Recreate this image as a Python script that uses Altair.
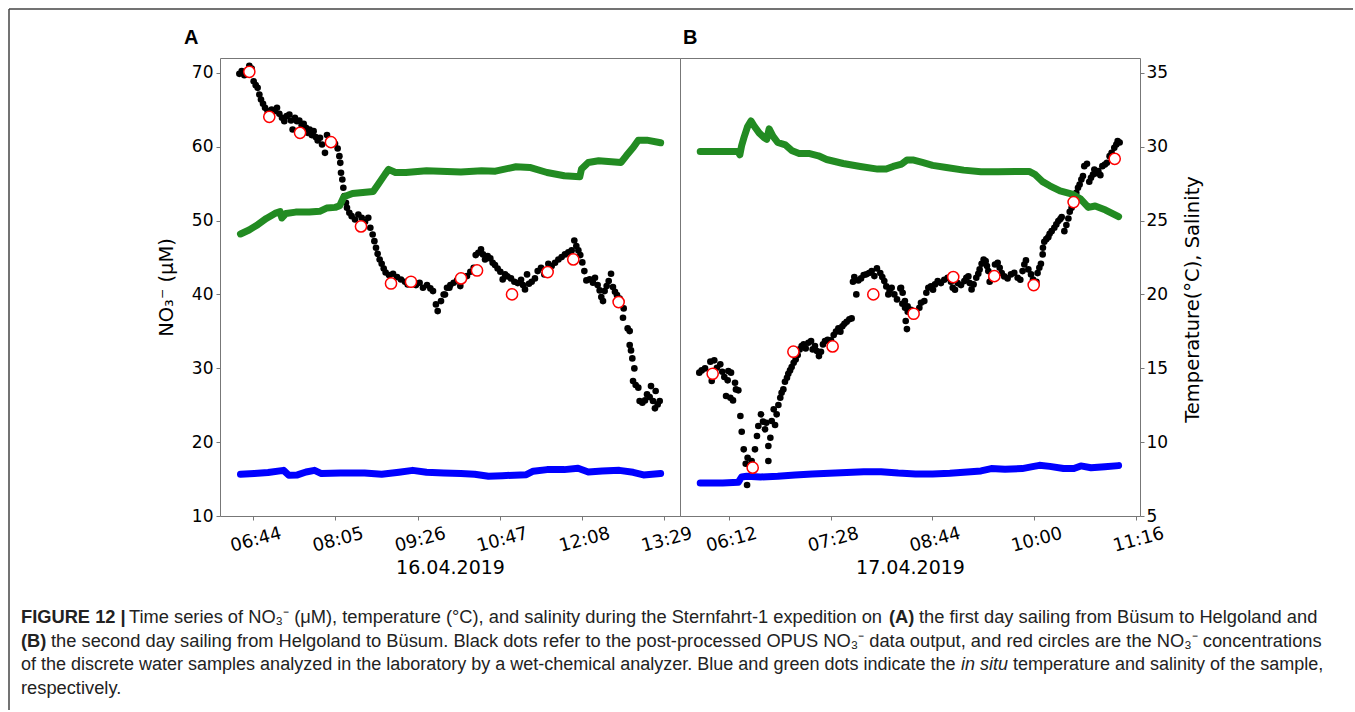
import altair as alt
import pandas as pd

# ---------------- Panel A : 16.04.2019 (time = minutes after midnight) ----------------
a_opus = [
    (390.3, 69.86), (392.6, 70.22), (395.2, 69.68), (400.1, 70.94), (402.4, 70.58), (404.4, 68.86),
    (406.4, 68.32), (408.3, 67.96), (410.0, 67.06), (411.6, 66.38), (413.6, 65.8), (415.6, 65.25),
    (418.2, 64.8), (422.1, 65.03), (424.8, 64.8), (427.4, 65.25), (429.7, 64.44), (432.3, 63.9),
    (434.6, 63.45), (436.9, 64.13), (439.6, 64.35), (441.2, 63.54), (442.8, 62.32), (445.1, 63.9),
    (447.1, 63.45), (449.4, 63.54), (451.7, 62.91), (453.7, 63.09), (456.0, 62.55), (457.6, 61.87),
    (459.6, 62.32), (461.6, 61.56), (463.5, 62.1), (465.5, 61.29), (467.5, 60.83), (469.8, 61.2),
    (471.8, 60.29), (474.7, 59.16), (476.7, 61.56), (478.7, 60.97), (484.6, 60.38), (487.2, 59.75),
    (488.9, 58.71), (489.8, 57.81), (490.5, 56.46), (491.8, 55.56), (492.8, 54.43), (493.8, 53.3),
    (495.4, 52.4), (496.4, 51.72), (498.7, 51.05), (501.0, 50.59), (504.3, 50.14), (507.6, 50.82),
    (510.9, 50.37), (514.2, 49.83), (517.4, 50.37), (519.4, 49.02), (521.7, 48.11), (523.4, 47.21),
    (525.0, 46.31), (526.6, 45.5), (528.6, 44.73), (530.6, 44.14), (532.6, 43.51), (534.5, 42.97),
    (537.8, 42.61), (541.8, 42.79), (545.7, 42.34), (549.6, 42.02), (553.6, 41.71), (556.2, 41.35),
    (561.1, 41.8), (564.4, 41.26), (568.0, 41.57), (571.3, 40.9), (575.3, 41.26), (578.6, 40.81),
    (581.2, 40.45), (584.1, 38.64), (585.8, 37.74), (589.1, 39.09), (593.0, 39.99), (597.3, 40.9),
    (591.7, 39.99), (595.0, 40.9), (598.3, 41.26), (601.6, 41.57), (604.9, 41.89), (608.1, 41.12),
    (611.4, 42.25), (614.7, 42.48), (618.0, 43.06), (621.3, 43.6), (623.3, 45.32), (625.9, 45.63),
    (628.5, 46.09), (630.5, 45.41), (632.5, 44.73), (635.1, 45.18), (637.7, 44.87), (640.0, 44.28),
    (642.3, 43.97), (644.9, 43.51), (647.6, 43.06), (649.9, 42.03), (652.2, 42.7), (654.8, 42.43),
    (658.1, 42.16), (661.4, 41.71), (664.7, 41.53), (668.0, 41.98), (669.9, 41.26), (671.9, 40.67),
    (673.9, 42.7), (675.8, 41.44), (678.5, 41.71), (681.7, 42.16), (684.4, 43.15), (687.7, 43.6),
    (691.0, 42.7), (694.9, 44.15), (698.2, 43.83), (701.5, 44.28), (704.8, 44.73), (708.0, 45.05),
    (711.3, 45.41), (714.6, 45.68), (717.9, 45.95), (720.5, 47.3), (722.5, 46.54), (724.5, 45.95),
    (726.4, 45.32), (728.4, 44.33), (730.4, 43.15), (732.4, 41.89), (735.6, 42.03), (738.9, 41.57),
    (740.9, 42.25), (743.5, 41.26), (745.5, 40.54), (747.1, 39.63), (748.8, 39.09), (750.4, 40.45),
    (752.4, 41.12), (754.4, 41.8), (756.7, 42.79), (758.6, 40.99), (760.6, 40.36), (762.6, 39.9),
    (765.2, 39.45), (769.2, 38.1), (768.5, 36.84), (773.1, 35.39), (775.1, 35.03), (775.1, 33.14),
    (776.4, 32.42), (777.7, 31.33), (779.7, 29.98), (778.4, 28.27), (781.0, 27.73), (783.6, 27.37),
    (784.9, 25.56), (787.6, 25.34), (790.2, 25.65), (792.2, 26.46), (794.8, 26.1), (796.1, 27.59),
    (798.1, 25.56), (800.7, 26.92), (802.7, 25.11), (804.7, 25.56), (800.0, 24.57),
]
a_lab = [
    (400.1, 70.13), (419.8, 64.04), (450.1, 61.87), (480.6, 60.61), (510.2, 49.2), (539.8, 41.48),
    (559.5, 41.71), (608.8, 42.16), (624.6, 43.24), (659.1, 40.0), (694.2, 43.02), (719.5, 44.73),
    (764.2, 38.96),
]
a_sal = [
    (391.4, 24.09), (399.9, 24.36), (408.4, 24.72), (416.9, 25.14), (425.4, 25.48), (430.5, 25.6),
    (432.2, 25.17), (436.3, 25.48), (445.8, 25.57), (459.3, 25.57), (469.5, 25.62), (476.3, 25.84),
    (484.8, 25.89), (489.2, 26.0), (493.3, 26.61), (501.8, 26.83), (512.0, 26.9), (522.2, 26.97),
    (527.2, 27.46), (534.0, 28.14), (537.4, 28.46), (544.2, 28.25), (554.4, 28.25), (574.8, 28.37),
    (608.7, 28.28), (629.1, 28.37), (642.7, 28.34), (663.0, 28.64), (676.6, 28.59), (693.6, 28.25),
    (710.6, 28.03), (725.9, 27.96), (727.6, 28.48), (734.3, 28.93), (744.5, 29.04), (766.6, 28.93),
    (771.7, 29.38), (778.5, 29.94), (783.6, 30.44), (792.0, 30.44), (805.6, 30.26),
]
a_temp = [
    (391.4, 7.82), (405.0, 7.87), (418.6, 7.94), (433.9, 8.09), (439.0, 7.76), (447.5, 7.78),
    (456.0, 7.98), (464.4, 8.09), (471.2, 7.87), (489.9, 7.91), (513.7, 7.91), (530.6, 7.82),
    (547.6, 7.96), (561.2, 8.09), (574.8, 7.96), (591.7, 7.91), (608.7, 7.87), (622.3, 7.82),
    (635.9, 7.69), (649.5, 7.73), (673.2, 7.8), (680.0, 8.03), (693.6, 8.14), (710.6, 8.14),
    (724.2, 8.23), (734.3, 7.98), (748.0, 8.05), (764.9, 8.09), (778.5, 7.96), (788.7, 7.78),
    (805.6, 7.87),
]
a_ticks = [404, 485, 566, 647, 728, 809]
a_domain = [371.2, 824.7]

# ---------------- Panel B : 17.04.2019 ----------------
b_opus = [
    (349.9, 29.4), (351.7, 29.71), (354.2, 29.98), (358.2, 30.89), (361.1, 31.07), (359.2, 28.27),
    (363.1, 30.07), (365.6, 30.53), (367.1, 29.53), (368.6, 28.81), (371.1, 28.36), (371.6, 29.62),
    (373.6, 29.4), (369.9, 26.24), (373.1, 26.01), (375.1, 25.65), (376.6, 28.04), (377.3, 27.14),
    (379.1, 27.01), (380.6, 23.53), (381.6, 21.41), (383.1, 19.02), (384.6, 17.08), (386.0, 17.89),
    (385.6, 14.2), (389.0, 17.44), (391.5, 19.02), (393.0, 20.83), (394.0, 22.18), (396.0, 23.76),
    (397.5, 22.77), (399.0, 21.73), (400.0, 22.63), (401.5, 19.47), (401.5, 17.44), (403.0, 20.6),
    (404.0, 22.86), (405.5, 24.44), (406.5, 22.32), (407.7, 23.76), (409.0, 25.02), (410.4, 26.01),
    (411.4, 26.69), (412.7, 27.14), (413.9, 28.18), (415.4, 28.72), (416.4, 29.26), (417.7, 29.71),
    (418.9, 30.16), (420.4, 30.75), (421.9, 31.2), (423.4, 31.79), (424.9, 32.55), (426.4, 33.01),
    (427.9, 33.23), (429.4, 32.69), (431.4, 33.46), (433.4, 33.68), (434.6, 32.55), (436.3, 33.01),
    (437.8, 32.33), (439.3, 31.65), (440.8, 32.24), (442.3, 33.23), (443.8, 33.68), (445.8, 33.86),
    (448.3, 33.77), (450.3, 34.5), (452.0, 34.95), (453.8, 35.4), (455.3, 34.95), (456.8, 35.67),
    (458.3, 36.03), (460.0, 36.3), (462.0, 36.62), (463.7, 36.75), (464.7, 41.71), (465.7, 42.34),
    (467.2, 40.0), (468.7, 41.89), (470.7, 42.16), (472.7, 42.62), (474.7, 42.71), (476.7, 42.89),
    (478.7, 43.16), (480.7, 42.48), (482.6, 43.52), (485.1, 42.89), (486.6, 42.34), (488.1, 41.8),
    (489.6, 41.08), (491.1, 40.0), (492.1, 40.54), (493.6, 40.9), (495.6, 40.0), (497.6, 39.32),
    (500.1, 40.81), (501.6, 38.74), (503.6, 38.19), (504.1, 36.39), (505.6, 37.65), (505.0, 35.3),
    (500.6, 40.9), (501.8, 40.22), (503.5, 39.09), (505.5, 38.37), (508.0, 37.92), (511.8, 37.65),
    (514.3, 38.19), (515.5, 38.87), (518.0, 39.09), (519.5, 40.22), (521.0, 40.9), (523.0, 41.08),
    (524.5, 40.63), (526.0, 41.35), (528.0, 41.8), (530.4, 41.53), (532.9, 41.98), (535.4, 42.25),
    (537.9, 41.71), (539.2, 40.9), (540.9, 40.63), (542.9, 41.53), (545.4, 41.26), (547.9, 41.8),
    (549.4, 42.25), (550.9, 42.43), (551.9, 41.53), (553.3, 40.67), (554.8, 41.35), (556.8, 42.25),
    (558.3, 42.79), (559.3, 43.38), (560.8, 44.14), (562.3, 44.73), (563.8, 44.5), (564.8, 43.83),
    (565.8, 43.15), (566.8, 41.71), (568.3, 42.25), (570.8, 44.05), (572.8, 44.28), (574.3, 43.6),
    (575.8, 42.88), (577.7, 42.43), (580.2, 42.16), (582.7, 42.7), (585.2, 42.93), (587.7, 42.25),
    (589.7, 41.98), (591.4, 43.15), (592.7, 44.05), (593.9, 44.6), (595.7, 43.38), (597.7, 42.7),
    (599.2, 42.02), (601.7, 41.71), (602.6, 42.88), (603.9, 43.6), (605.1, 44.14), (606.4, 45.41),
    (606.6, 46.31), (607.6, 47.12), (609.1, 47.48), (610.6, 47.75), (611.6, 48.2), (613.1, 48.56),
    (615.1, 49.02), (616.6, 49.47), (618.1, 49.92), (619.6, 50.19), (620.6, 50.46), (622.6, 48.56),
    (624.1, 49.38), (625.6, 50.28), (626.6, 51.18), (628.0, 51.72), (629.5, 52.26), (630.5, 52.89),
    (631.5, 53.75), (632.8, 54.43), (634.0, 54.88), (635.3, 55.56), (636.5, 56.01), (637.5, 57.36),
    (639.5, 57.68), (641.2, 55.24), (642.5, 55.78), (644.0, 56.23), (645.0, 56.91), (646.5, 56.41),
    (648.0, 56.68), (649.5, 56.14), (651.0, 57.36), (652.9, 57.59), (654.4, 57.81), (656.4, 58.71),
    (657.9, 59.16), (659.9, 59.84), (661.4, 60.29), (662.4, 60.74), (663.9, 60.56),
]
b_lab = [
    (359.9, 29.26), (389.8, 16.54), (420.2, 32.24), (449.5, 32.96), (479.9, 40.0), (510.0, 37.38),
    (539.6, 42.34), (570.3, 42.47), (599.7, 41.26), (629.5, 52.49), (660.2, 58.35),
]
b_sal = [
    (350.6, 29.67), (369.9, 29.67), (378.9, 29.67), (380.2, 29.45), (381.5, 30.05), (383.3, 30.62),
    (385.9, 31.34), (388.5, 31.74), (391.0, 31.38), (394.6, 30.93), (398.2, 30.62), (400.3, 30.5),
    (402.1, 31.2), (404.9, 30.71), (408.5, 30.28), (414.2, 30.12), (419.3, 29.72), (424.5, 29.54),
    (431.7, 29.54), (438.9, 29.38), (445.0, 29.13), (457.4, 28.86), (470.2, 28.66), (483.1, 28.48),
    (489.5, 28.48), (494.7, 28.66), (501.1, 28.82), (505.0, 29.09), (510.1, 29.09), (516.5, 28.93),
    (524.2, 28.73), (534.5, 28.59), (547.4, 28.41), (560.3, 28.3), (573.1, 28.3), (586.0, 28.32),
    (596.3, 28.32), (600.9, 28.1), (606.0, 27.65), (611.7, 27.35), (619.4, 27.01), (628.4, 26.79),
    (634.8, 26.45), (640.5, 25.89), (645.6, 25.98), (653.4, 25.71), (663.1, 25.26),
]
b_temp = [
    (350.6, 7.24), (367.4, 7.24), (379.0, 7.28), (381.5, 7.64), (385.4, 7.69), (395.7, 7.64),
    (408.5, 7.69), (421.4, 7.78), (434.2, 7.85), (447.1, 7.89), (460.0, 7.94), (472.8, 8.0),
    (485.7, 8.0), (498.5, 7.91), (511.4, 7.85), (524.2, 7.85), (537.1, 7.89), (550.0, 7.98),
    (560.3, 8.05), (568.0, 8.21), (578.3, 8.16), (591.1, 8.21), (598.8, 8.34), (604.0, 8.43),
    (611.7, 8.36), (622.0, 8.21), (629.7, 8.21), (634.9, 8.39), (642.5, 8.27), (652.8, 8.34),
    (663.1, 8.41),
]
b_ticks = [372, 448, 524, 600, 676]
b_domain = [335.5, 679.1]

no3_ticks = [10, 20, 30, 40, 50, 60, 70]
ts_ticks = [5, 10, 15, 20, 25, 30, 35]

# caption segments: (text, weight, style, left x, font size)
caption_lines = [
    [("FIGURE 12 |", "bold", "normal", 20, 18.3),
     ("Time series of NO₃⁻ (μM), temperature (°C), and salinity during the Sternfahrt-1 expedition on", "normal", "normal", 128, 18.3),
     ("(A)", "bold", "normal", 888, 18.3),
     ("the first day sailing from Büsum to Helgoland and", "normal", "normal", 918, 18.3)],
    [("(B)", "bold", "normal", 20, 18.3),
     ("the second day sailing from Helgoland to Büsum. Black dots refer to the post-processed OPUS NO₃⁻ data output, and red circles are the NO₃⁻ concentrations", "normal", "normal", 50, 18.3)],
    [("of the discrete water samples analyzed in the laboratory by a wet-chemical analyzer. Blue and green dots indicate the", "normal", "normal", 20, 18),
     ("in situ", "normal", "italic", 960, 18),
     ("temperature and salinity of the sample,", "normal", "normal", 1012, 18)],
    [("respectively.", "normal", "normal", 20, 18.3)],
]
caption_baselines = [622, 645.5, 669, 692.5]

# ---------------- layout constants (pixels) ----------------
VX, VY = 219, 57          # top-left of panel A plot area
W, H = 460, 458

LAB_EXPR = ("(floor(datum.value/60)<10?'0':'') + floor(datum.value/60) + ':' + "
            "(datum.value%60<10?'0':'') + (datum.value%60)")

one = pd.DataFrame({"k": [0]})


def letter_layer(letter, x):
    return alt.Chart(one).mark_text(
        text=letter, align="left", baseline="alphabetic", font="Liberation Sans",
        fontSize=20, fontWeight="bold", color="black"
    ).encode(x=alt.value(x), y=alt.value(43 - VY))


def caption_layers():
    layers = []
    for line, yb in zip(caption_lines, caption_baselines):
        for text, weight, style, xpos, fs in line:
            layers.append(
                alt.Chart(one).mark_text(
                    text=text, align="left", baseline="alphabetic", font="Liberation Sans",
                    fontSize=fs, fontWeight=weight, fontStyle=style, color="#222222"
                ).encode(x=alt.value(xpos - VX), y=alt.value(yb - VY))
            )
    # figure frame (top and left edges)
    layers.append(alt.Chart(one).mark_rule(color="#444444", strokeWidth=1.5).encode(
        x=alt.value(8 - VX), y=alt.value(8 - VY), y2=alt.value(709 - VY)))
    layers.append(alt.Chart(one).mark_rule(color="#444444", strokeWidth=1.5).encode(
        x=alt.value(8 - VX), x2=alt.value(1352 - VX), y=alt.value(8 - VY)))
    return layers


def panel(opus, lab, sal, temp, domain, ticks, date, left, extras):
    d_opus = pd.DataFrame(opus, columns=["t", "v"])
    d_lab = pd.DataFrame(lab, columns=["t", "v"])
    d_sal = pd.DataFrame(sal, columns=["t", "v"])
    d_temp = pd.DataFrame(temp, columns=["t", "v"])

    x = alt.X("t:Q", scale=alt.Scale(domain=domain, nice=False, zero=False),
              axis=alt.Axis(values=ticks, labelExpr=LAB_EXPR, title=date, labelAngle=345,
                            labelAlign="center", labelBaseline="top", labelPadding=11,
                            labelFontSize=18, titleY=57, titleBaseline="alphabetic",
                            titleFontSize=19))
    if left:
        ax_l = alt.Axis(orient="left", values=no3_ticks, title="NO₃⁻ (μM)", titleAngle=270,
                        titleX=-48, titleY=H / 2, titleAlign="center", titleBaseline="alphabetic",
                        labelPadding=3)
        ax_r = None
    else:
        ax_l = None
        ax_r = alt.Axis(orient="right", values=ts_ticks, title="Temperature(°C), Salinity",
                        titleAngle=270, titleX=58, titleY=241, titleAlign="center",
                        titleBaseline="alphabetic", labelPadding=2)

    def yl(ax):
        return alt.Y("v:Q", scale=alt.Scale(domain=[10, 72], nice=False, zero=False), axis=ax)

    def yr(ax):
        return alt.Y("v:Q", scale=alt.Scale(domain=[5, 36], nice=False, zero=False), axis=ax)

    black = alt.Chart(d_opus).mark_circle(size=44, color="black", opacity=1).encode(x=x, y=yl(ax_l))
    green = alt.Chart(d_sal).mark_line(color="#228b22", strokeWidth=7, strokeCap="round",
                                       strokeJoin="round").encode(x=x, y=yr(ax_r))
    blue = alt.Chart(d_temp).mark_line(color="#0000ff", strokeWidth=7, strokeCap="round",
                                       strokeJoin="round").encode(x=x, y=yr(None))
    red = alt.Chart(d_lab).mark_point(shape="circle", size=125, filled=True, fill="white",
                                      stroke="red", strokeWidth=1.5, opacity=1).encode(x=x, y=yl(None))
    return alt.layer(black, green, blue, red, *extras).resolve_scale(y="independent").properties(
        width=W, height=H)


pa = panel(a_opus, a_lab, a_sal, a_temp, a_domain, a_ticks, "16.04.2019", True,
           [letter_layer("A", 183 - VX)] + caption_layers())
pb = panel(b_opus, b_lab, b_sal, b_temp, b_domain, b_ticks, "17.04.2019", False,
           [letter_layer("B", 682 - (VX + W))])

chart = alt.hconcat(pa, pb, spacing=0, bounds="flush").properties(
    padding={"left": 7, "top": 7, "right": 0, "bottom": 0}
).configure_view(stroke="#777777", strokeWidth=1).configure_axis(
    labelFont="DejaVu Sans", labelFontSize=17, labelColor="black", tickColor="#777777",
    tickSize=4, tickWidth=1, domain=False, grid=False, titleFont="DejaVu Sans",
    titleFontSize=19.5, titleFontWeight="normal", titleColor="black"
)

chart.save("out.html", embed_options={"renderer": "svg", "actions": False})
